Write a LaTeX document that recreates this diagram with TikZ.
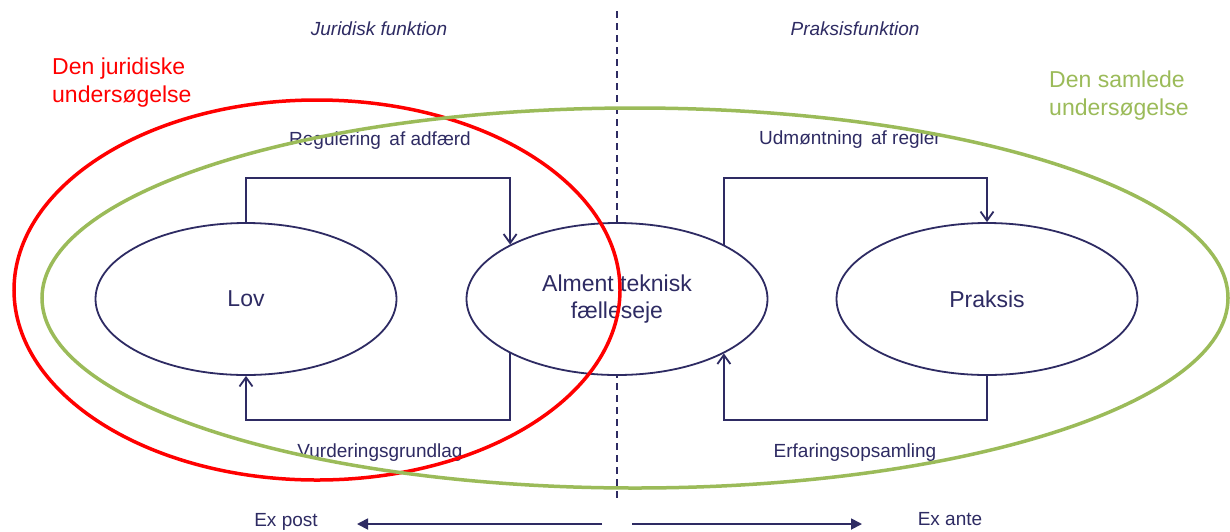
\documentclass[tikz,border=0pt]{standalone}
\usepackage{fontspec}
\setmainfont{Liberation Sans}
\usetikzlibrary{arrows.meta,shapes.geometric}
\definecolor{navy}{HTML}{2E2B63}
\definecolor{jred}{HTML}{FF0000}
\definecolor{sgreen}{HTML}{9BBB59}
\tikzset{
  oval/.style={draw=navy, line width=1.8pt, ellipse, minimum width=301pt, minimum height=152pt, inner sep=0pt, fill=white, text=navy, font=\fontsize{23}{27}\selectfont, align=center},
  lbl/.style={text=navy, font=\fontsize{19}{23}\selectfont, inner sep=0pt, anchor=base},
  ilbl/.style={text=navy, font=\fontsize{19}{23}\selectfont\itshape, inner sep=0pt, anchor=base},
  loop/.style={draw=navy, line width=1.8pt, -{Straight Barb[length=9pt,width=13pt,line width=1.8pt]}},
  timearrow/.style={draw=navy, line width=1.8pt, -{Triangle[length=11pt,width=11pt]}},
  bigtext/.style={font=\fontsize{23}{28}\selectfont, align=left, inner sep=0pt, anchor=base west}
}
\begin{document}
\begin{tikzpicture}[x=1pt,y=-1pt]
\useasboundingbox (0,0) rectangle (1230,531);
\fill[white] (0,0) rectangle (1230,531);
% dashed divider
\coordinate (dtop) at (617,11);
\coordinate (dbot) at (617,498);
\draw[navy, line width=1.8pt, dash pattern=on 7pt off 5pt] (dtop) -- (dbot);
% ovals
\node[oval] (lov) at (246,299) {Lov};
\node[oval] (alm) at (617,299) {Alment teknisk\\fælleseje};
\node[oval] (prak) at (987,299) {Praksis};
% loops
\draw[loop] (lov.north) -- (lov.north |- 0,178) -| (alm.153);
\draw[loop] (alm.-153) -- (alm.-153 |- 0,420) -| (lov.south);
\draw[loop] (alm.27) -- (alm.27 |- 0,178) -| (prak.north);
\draw[loop] (prak.south) -- (prak.south |- 0,420) -| (alm.-27);
% labels
\node[ilbl] (jur) at (379,35) {Juridisk funktion};
\node[ilbl] (prf) at (855,35) {Praksisfunktion};
\node[lbl] (reg) at (380,145) {Regulering\, af adfærd};
\node[lbl] (udm) at (850,144) {Udmøntning\, af regler};
\node[lbl] (vur) at (380,457) {Vurderingsgrundlag};
\node[lbl] (erf) at (855,457) {Erfaringsopsamling};
% big ellipses
\draw[jred, line width=3.5pt] (317,290) ellipse [x radius=303, y radius=190];
\draw[sgreen, line width=3.5pt] (635,298) ellipse [x radius=593, y radius=190];
\node[bigtext, text=jred] (jurund) at (52,102) {Den juridiske\\undersøgelse};
\node[bigtext, text=sgreen] (samund) at (1049,115) {Den samlede\\undersøgelse};
% time arrows
\node[lbl] (expost) at (286,526) {Ex post};
\node[lbl] (exante) at (950,525) {Ex ante};
\coordinate (ps) at (602,524);
\coordinate (pe) at (357,524);
\coordinate (as) at (632,524);
\coordinate (ae) at (862,524);
\draw[timearrow] (ps) -- (pe);
\draw[timearrow] (as) -- (ae);
\end{tikzpicture}
\end{document}
